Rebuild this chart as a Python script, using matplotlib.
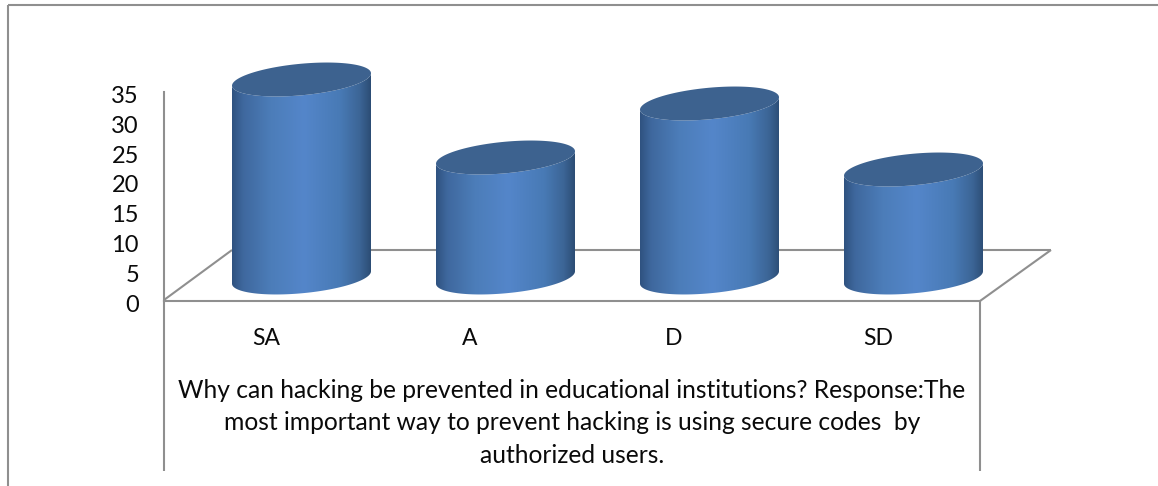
import numpy as np
import matplotlib
matplotlib.use("Agg")
import matplotlib.pyplot as plt
from matplotlib.colors import LinearSegmentedColormap
from matplotlib.lines import Line2D
from matplotlib.patches import Polygon
from matplotlib.transforms import ScaledTranslation

categories = ["SA", "A", "D", "SD"]
values = [33, 20, 29, 18]
y_ticks = [0, 5, 10, 15, 20, 25, 30, 35]
title_lines = [
    "Why can hacking be prevented in educational institutions? Response:The",
    "most important way to prevent hacking is using secure codes  by",
    "authorized users.",
]

W, H = 1158, 486
GRAY = "#8f8f8f"
FONT = "Lato"
TEXT = "#0a0a0a"
plt.rcParams["font.family"] = FONT

fig = plt.figure(figsize=(W / 100, H / 100), dpi=100, facecolor="white")


def rect(x0, ytop, x1, ybot):
    return [x0 / W, 1 - ybot / H, (x1 - x0) / W, (ybot - ytop) / H]


# Front wall of the chart: the real axes with value ticks and category labels
ax = fig.add_axes(rect(164, 92, 980, 300.5), facecolor="none")
ax.set_xlim(-0.5, len(categories) - 0.5)
ax.set_ylim(0, 35)
ax.set_yticks(y_ticks)
ax.set_xticks(range(len(categories)))
ax.set_xticklabels(categories, fontsize=16.5, color=TEXT)
ax.tick_params(axis="y", length=0, pad=18, labelsize=17, labelcolor=TEXT)
ax.tick_params(axis="x", length=0, pad=20)
for s in ("top", "right"):
    ax.spines[s].set_visible(False)
for s in ("left", "bottom"):
    ax.spines[s].set_color(GRAY)
    ax.spines[s].set_linewidth(1.5)
for lab in ax.get_yticklabels():
    lab.set_transform(lab.get_transform() + ScaledTranslation(0, -2.5 / 100, fig.dpi_scale_trans))

# Frame and floor lines, in pixel space
ov = fig.add_axes([0, 0, 1, 1], facecolor="none")
ov.set_xlim(0, W)
ov.set_ylim(H, 0)
ov.axis("off")
for xs, ys in [
    ([8, 8], [486, 5]),
    ([8, 1158], [5, 5]),
    ([164, 164], [300, 471]),
    ([980, 980], [301, 471]),
    ([164, 232], [300, 250]),
    ([232, 1051], [250, 250]),
    ([1051, 980], [250, 301]),
]:
    ov.add_line(Line2D(xs, ys, color=GRAY, lw=1.5, solid_capstyle="butt"))

for i, line in enumerate(title_lines):
    ov.text(572, 390 + i * 32.5, line, ha="center", va="center",
            fontsize=17.7, color=TEXT)

# Cylinders: x in category units, y in value units
SPACING = 204.0
X0, Y0, PPU = 301.5, 277.5, 6.0
cyl = fig.add_axes([0, 0, 1, 1], facecolor="none")
cyl.set_xlim((0 - X0) / SPACING, (W - X0) / SPACING)
cyl.set_ylim((Y0 - H) / PPU, Y0 / PPU)
cyl.axis("off")

HALF = 69.5 / SPACING
B = 15.8 / PPU
S = 6.2 / PPU
cmap = LinearSegmentedColormap.from_list(
    "cyl",
    [(0.0, "#2f5280"), (0.08, "#3f689e"), (0.28, "#4c7db9"), (0.52, "#5486ca"),
     (0.78, "#487ab5"), (0.92, "#3c6596"), (1.0, "#2c4d75")],
)
grad = np.linspace(0, 1, 256).reshape(1, -1)
t = np.linspace(0, 2 * np.pi, 181)
for i, v in enumerate(values):
    # lower half of the ellipse (front arc) goes left to right
    tf = np.linspace(np.pi, 2 * np.pi, 91)
    fx = i + HALF * np.cos(tf)
    front = B * np.sin(tf) + S * np.cos(tf)
    body_x = np.r_[fx, fx[::-1]]
    body_y = np.r_[front, (front + v)[::-1]]
    body = Polygon(np.c_[body_x, body_y], closed=True, transform=cyl.transData,
                   facecolor="none", edgecolor="none")
    cyl.add_patch(body)
    im = cyl.imshow(grad, cmap=cmap, aspect="auto", interpolation="bilinear",
                    extent=(i - HALF, i + HALF, front.min() - 1, v + 3), zorder=2)
    im.set_clip_path(body)
    cap = Polygon(np.c_[i + HALF * np.cos(t), v + B * np.sin(t) + S * np.cos(t)],
                  closed=True, facecolor="#3d628f", edgecolor="none", zorder=3)
    cyl.add_patch(cap)
cyl.set_xlim((0 - X0) / SPACING, (W - X0) / SPACING)
cyl.set_ylim((Y0 - H) / PPU, Y0 / PPU)

fig.savefig("out.png", dpi=100)
